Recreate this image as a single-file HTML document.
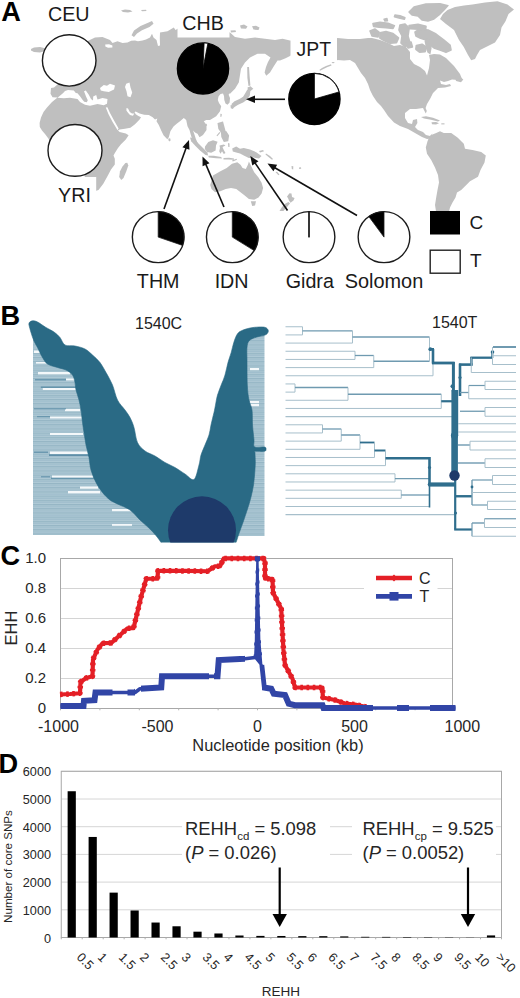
<!DOCTYPE html>
<html><head><meta charset="utf-8"><title>Figure</title>
<style>
html,body{margin:0;padding:0;background:#fff;}
body{width:520px;height:998px;overflow:hidden;font-family:"Liberation Sans", sans-serif;}
svg{display:block;font-family:"Liberation Sans", sans-serif;}
</style></head>
<body>
<svg width="520" height="998" viewBox="0 0 520 998">
<rect width="520" height="998" fill="#fff"/>
<g clip-path="url(#mapclip)">
<defs><clipPath id="mapclip"><rect x="0" y="0" width="520" height="211"/></clipPath></defs>
<polygon points="57.5,97.5 52.0,102.0 47.0,107.5 43.5,112.0 41.0,117.5 39.6,123.0 39.8,127.0 42.0,130.5 45.0,134.0 48.0,138.0 50.0,141.0 58.0,143.5 70.0,143.0 76.0,147.0 78.0,155.0 82.0,162.0 83.5,172.0 86.0,181.0 89.5,190.0 94.0,191.5 98.5,190.0 103.3,183.8 108.0,175.2 111.0,169.4 114.8,164.6 114.8,158.8 113.5,155.5 115.0,152.7 118.0,148.0 121.0,144.2 125.8,139.6 128.6,135.3 125.8,133.4 119.6,131.9 118.0,130.6 119.6,129.4 125.0,128.8 130.4,127.8 135.0,124.2 139.6,119.6 141.0,117.3 138.0,115.8 135.8,114.2 134.5,112.2 135.6,111.6 139.6,113.5 144.2,114.7 148.8,115.0 152.7,117.3 155.0,119.6 157.3,118.4 156.5,121.2 158.8,125.0 161.2,130.4 163.5,135.3 167.3,139.2 168.8,137.3 170.4,131.2 173.5,126.5 177.0,123.5 180.0,121.2 183.8,118.0 186.2,120.0 187.5,126.2 189.5,130.0 190.5,133.8 192.0,138.8 195.0,143.8 197.5,147.2 198.6,146.0 198.0,143.8 195.8,138.8 194.2,133.8 193.0,130.6 195.0,132.6 197.5,133.8 199.5,137.3 203.0,135.0 206.5,130.0 206.5,125.0 203.8,121.2 206.2,120.0 210.0,120.0 216.2,116.2 220.0,111.2 221.2,106.2 219.0,103.0 217.8,100.0 218.5,96.5 220.5,94.0 223.0,93.5 224.0,96.0 224.3,100.0 225.5,103.5 227.5,104.7 229.6,102.5 230.0,98.0 228.7,95.0 229.0,93.6 230.0,93.8 235.0,88.8 238.8,82.5 240.0,75.0 241.0,68.8 245.0,62.5 250.0,57.5 257.5,53.8 265.0,53.8 270.5,57.5 268.0,62.0 266.0,67.0 264.6,72.5 266.2,75.8 270.0,72.5 273.8,66.2 277.5,60.5 280.0,60.5 285.0,58.5 290.0,56.0 296.0,52.0 305.0,48.5 311.0,45.0 306.0,41.0 290.0,40.5 282.5,38.8 275.0,40.0 265.0,38.8 255.0,37.5 245.0,38.8 235.0,37.0 230.0,32.5 222.0,30.0 212.0,27.0 203.0,22.0 196.0,20.0 190.0,23.0 183.0,27.0 178.0,28.5 175.5,30.0 173.8,27.5 167.5,31.2 160.0,32.5 159.8,38.0 160.0,45.5 158.0,46.0 156.5,40.0 153.5,37.5 152.0,33.8 150.0,37.5 146.0,39.6 142.5,40.6 138.0,41.2 135.0,40.6 131.2,40.8 127.5,42.6 122.5,43.0 117.5,41.2 112.5,43.0 110.0,40.0 102.5,37.0 95.0,37.5 88.8,40.5 80.0,45.0 70.0,50.0 60.0,60.0 55.0,75.0 58.0,84.0 54.0,87.5 51.0,88.0 50.5,93.8 52.5,97.3 57.5,97.5" fill="#bfbfbf"/>
<polygon points="31.0,49.0 34.0,47.5 40.0,47.0 46.0,48.5 45.0,51.0 40.0,52.5 34.0,52.0 31.0,50.5" fill="#bfbfbf"/>
<polygon points="121.0,10.5 125.0,9.5 130.0,10.0 132.5,11.5 128.0,12.5 123.0,12.0" fill="#bfbfbf"/>
<polygon points="141.0,10.0 146.0,9.8 146.5,11.0 142.0,11.3" fill="#bfbfbf"/>
<polygon points="152.0,21.0 147.5,23.0 140.5,26.0 134.0,30.5 131.5,35.2 134.0,37.0 137.0,33.5 142.0,30.2 149.5,27.0 153.5,23.8" fill="#bfbfbf"/>
<polygon points="196.0,15.0 201.0,13.0 204.0,15.5 199.0,17.5" fill="#bfbfbf"/>
<polygon points="240.0,25.5 244.0,24.6 247.5,26.5 246.0,28.8 241.0,28.6" fill="#bfbfbf"/>
<polygon points="252.0,26.3 256.0,25.8 259.5,27.6 258.5,30.0 253.5,29.6" fill="#bfbfbf"/>
<polygon points="230.5,30.6 235.5,30.2 236.0,32.0 231.0,32.4" fill="#bfbfbf"/>
<polygon points="127.3,162.7 128.3,165.6 126.3,171.3 123.5,178.0 121.2,180.0 119.2,177.1 120.0,171.3 122.5,166.5 125.4,163.0" fill="#bfbfbf"/>
<polygon points="168.6,138.2 170.3,138.6 170.6,140.6 169.3,141.4 168.3,140.0" fill="#bfbfbf"/>
<polygon points="204.5,124.3 206.6,123.7 207.1,125.4 205.3,126.3" fill="#bfbfbf"/>
<polygon points="220.4,113.7 221.8,113.9 221.6,116.6 220.4,117.0" fill="#bfbfbf"/>
<polygon points="190.0,137.5 192.5,138.0 197.5,142.5 202.5,147.5 207.5,152.5 208.0,155.5 205.5,155.0 200.0,150.5 195.0,145.5 191.2,141.2" fill="#bfbfbf"/>
<polygon points="208.2,155.8 213.8,155.8 221.2,157.0 222.0,158.5 216.2,158.2 208.8,157.5" fill="#bfbfbf"/>
<polygon points="223.5,158.0 229.0,157.8 234.0,158.5 234.0,159.8 228.0,159.6 223.5,159.4" fill="#bfbfbf"/>
<polygon points="232.0,160.5 236.5,158.8 237.0,159.8 232.8,161.6" fill="#bfbfbf"/>
<polygon points="205.0,146.5 208.3,142.0 213.0,140.2 217.6,141.8 216.0,145.5 215.6,150.4 211.2,152.8 207.2,152.0 204.8,149.0" fill="#bfbfbf"/>
<polygon points="219.5,145.5 223.8,144.5 225.5,145.5 222.5,147.0 223.8,150.0 225.5,153.0 223.8,154.0 222.0,151.2 220.5,153.8 219.2,151.2 220.0,148.0" fill="#bfbfbf"/>
<polygon points="228.0,143.0 229.5,143.5 229.5,147.0 228.3,147.0" fill="#bfbfbf"/>
<polygon points="217.5,123.2 218.3,128.8 218.4,128.9 221.0,132.8 221.1,132.9 221.3,132.9 225.5,131.8 225.6,131.7 225.7,131.6 225.7,131.4 224.3,126.2 224.3,126.2 223.1,121.7 223.0,121.6 222.9,121.5 222.7,121.5 217.7,122.9 217.6,123.0 217.5,123.1" fill="#bfbfbf"/>
<polygon points="220.9,132.2 221.3,137.0 221.3,137.1 223.7,141.7 223.9,141.9 224.0,141.9 228.0,141.3 228.2,141.2 228.3,141.0 229.1,135.5 229.0,135.3 226.2,131.1 226.1,131.0 225.9,131.0 221.1,131.9 221.0,132.0 220.9,132.1" fill="#bfbfbf"/>
<polygon points="216.5,135.5 219.5,132.0 220.3,132.8 217.3,136.3" fill="#bfbfbf"/>
<polygon points="232.2,148.6 236.2,146.4 240.0,148.8 243.8,148.0 250.0,149.6 256.2,152.2 261.5,156.0 259.0,158.6 253.8,157.6 248.8,157.9 243.8,155.6 240.0,153.6 236.2,152.6 232.8,151.6" fill="#bfbfbf"/>
<polygon points="259.0,151.0 263.0,150.0 264.0,151.3 260.0,152.6" fill="#bfbfbf"/>
<polygon points="266.0,153.5 270.0,156.0 273.0,159.0 272.0,159.8 268.5,157.0 265.5,154.5" fill="#bfbfbf"/>
<polygon points="291.5,166.0 293.3,166.3 293.2,169.5 291.8,169.0" fill="#bfbfbf"/>
<polygon points="275.5,172.0 277.0,171.7 279.5,174.5 278.4,175.3" fill="#bfbfbf"/>
<polygon points="299.0,167.5 301.0,167.3 301.2,168.8 299.2,169.0" fill="#bfbfbf"/>
<polygon points="210.9,182.8 213.0,175.4 220.4,171.2 226.7,168.0 232.0,163.8 237.3,162.3 240.5,164.8 242.6,168.0 245.8,169.0 247.9,164.8 248.9,161.4 251.1,165.9 254.2,172.2 258.5,177.5 261.6,182.8 263.1,188.1 261.6,193.4 258.5,197.6 254.2,199.7 248.9,199.1 244.7,195.5 240.5,192.3 236.3,189.1 231.0,188.1 225.7,189.1 220.4,191.2 215.1,192.3 211.5,189.1 210.2,184.9" fill="#bfbfbf"/>
<polygon points="250.8,201.2 256.0,201.2 255.0,205.5 252.2,206.0" fill="#bfbfbf"/>
<polygon points="287.0,196.5 289.5,193.2 291.5,193.6 292.0,197.0 294.6,198.0 293.5,200.5 290.5,202.8 289.0,200.5 288.2,198.5" fill="#bfbfbf"/>
<polygon points="288.5,202.0 290.0,203.5 287.0,207.0 283.0,211.5 279.5,211.0 282.0,207.0 285.5,203.5" fill="#bfbfbf"/>
<polygon points="231.4,104.3 233.8,107.1 233.9,107.2 234.0,107.2 234.1,107.2 238.1,104.8 243.1,102.4 243.1,102.4 247.1,99.8 247.2,99.7 249.8,95.5 249.8,95.4 250.4,90.8 250.4,90.7 250.3,90.7 250.3,90.6 247.5,89.6 247.4,89.6 247.3,89.6 247.2,89.7 245.4,93.1 243.1,96.7 239.5,99.0 234.5,101.2 234.5,101.3 231.5,104.1 231.4,104.1 231.4,104.2" fill="#bfbfbf"/>
<polygon points="230.5,105.2 232.5,105.0 234.5,106.8 232.8,109.0 230.8,108.2" fill="#bfbfbf"/>
<polygon points="247.5,87.5 250.5,86.2 253.3,88.8 250.5,91.0 248.0,90.5" fill="#bfbfbf"/>
<polygon points="247.2,67.0 249.0,67.0 249.6,76.0 250.4,85.5 248.5,86.0 247.4,78.0" fill="#bfbfbf"/>
<polygon points="319.5,69.8 322.0,68.0 326.0,66.0 331.0,64.3 331.5,65.5 327.0,67.3 323.0,69.2 320.0,70.8" fill="#bfbfbf"/>
<polygon points="326.0,52.0 326.0,44.0 331.0,40.0 337.6,38.0 348.0,39.0 360.0,39.0 368.0,38.0 372.0,38.0 380.0,40.0 388.0,43.0 394.0,46.0 400.0,45.0 406.0,47.0 410.0,52.0 410.0,59.0 414.0,64.0 420.0,67.0 425.0,71.0 427.0,75.5 429.0,68.0 430.0,60.0 429.0,55.0 434.0,54.0 440.0,54.5 446.0,58.0 454.0,66.0 460.0,74.0 462.0,79.0 458.0,80.0 452.0,79.5 448.0,81.0 444.0,82.0 440.0,80.5 441.0,84.0 446.0,85.0 450.0,84.0 451.0,86.0 445.0,87.5 438.0,88.0 433.0,93.0 430.0,99.0 427.0,104.0 425.6,108.0 426.8,111.0 425.8,113.6 424.2,110.5 423.0,108.0 416.0,109.0 410.0,109.0 405.0,113.0 405.0,118.0 408.0,123.0 412.0,124.0 413.0,120.0 417.0,119.0 417.4,123.0 415.0,127.0 418.0,130.0 423.0,132.0 426.0,135.0 430.0,136.0 432.4,133.6 430.0,138.5 427.0,139.0 422.0,137.0 415.0,133.0 408.0,129.0 400.0,126.0 394.0,122.4 388.0,116.0 384.0,110.0 381.0,106.0 377.0,102.0 373.0,96.0 370.0,90.0 368.0,84.0 365.0,78.0 361.0,73.0 358.0,68.0 355.0,63.0 350.0,60.0 344.0,60.4 337.6,60.0 333.0,63.5 331.5,62.0 335.0,58.0 332.0,55.0" fill="#bfbfbf"/>
<polygon points="427.5,141.2 429.0,137.5 431.2,135.0 436.2,133.0 440.0,131.2 443.8,133.0 451.2,133.0 457.5,137.5 463.8,143.8 465.0,148.8 472.5,150.0 481.2,152.0 485.8,155.5 484.5,162.5 480.5,170.0 478.0,176.8 470.0,181.2 465.0,186.2 461.2,190.0 457.0,192.5 455.5,197.5 452.5,202.5 450.0,207.5 448.8,212.5 447.0,220.0 440.0,220.0 436.2,212.5 435.0,205.0 436.2,197.5 437.5,190.0 439.0,182.5 438.0,175.0 435.0,167.5 431.2,160.0 427.0,153.8 425.8,147.5" fill="#bfbfbf"/>
<polygon points="421.0,117.0 426.0,116.2 433.0,117.8 440.0,120.6 438.0,121.4 431.0,119.8 424.0,118.6" fill="#bfbfbf"/>
<polygon points="431.5,122.3 436.0,122.0 439.0,123.3 436.0,124.6 432.0,124.2" fill="#bfbfbf"/>
<polygon points="441.3,123.3 444.5,123.3 444.5,124.4 441.3,124.4" fill="#bfbfbf"/>
<polygon points="440.0,19.0 443.0,14.0 447.5,10.0 455.0,7.0 464.0,5.6 472.5,4.6 485.0,2.5 497.5,1.2 507.5,4.6 514.0,9.6 508.5,14.0 505.5,21.2 501.5,27.5 500.0,35.0 495.0,42.5 487.5,46.2 480.0,50.0 477.0,55.0 475.0,59.0 471.2,60.3 468.0,55.0 463.8,47.0 459.0,40.0 454.0,30.0 446.0,24.0" fill="#bfbfbf"/>
<polygon points="408.5,12.5 411.5,15.5 411.9,15.7 417.7,16.7 421.5,20.5 421.9,20.7 427.9,21.7 428.2,21.7 434.2,19.7 434.4,19.5 439.4,15.5 439.5,15.5 444.5,10.5 444.5,10.5 448.5,6.1 448.7,5.8 448.7,5.4 448.5,5.1 448.2,4.9 440.2,2.9 440.0,2.9 426.0,3.3 425.8,3.3 413.8,6.3 413.5,6.5 408.5,11.5 408.3,11.8 408.3,12.2" fill="#bfbfbf"/>
<polygon points="414.2,32.2 415.2,36.2 415.4,36.5 415.6,36.7 419.6,38.7 419.7,38.8 425.5,40.7 429.4,45.5 429.5,45.6 433.5,48.6 433.7,48.8 439.7,50.8 445.7,53.1 446.0,53.2 446.3,53.1 451.3,50.7 451.6,50.5 451.8,50.2 451.8,49.8 450.8,44.8 450.5,44.4 444.5,39.4 444.5,39.4 436.5,33.4 436.4,33.3 428.4,29.3 428.1,29.2 420.1,28.2 419.6,28.3 414.6,31.3 414.3,31.7" fill="#bfbfbf"/>
<polygon points="369.3,31.3 371.3,36.3 371.5,36.6 371.9,36.8 377.9,37.8 378.3,37.8 378.6,37.5 378.8,37.2 379.8,32.2 379.7,31.7 379.5,31.4 375.5,28.4 375.1,28.2 374.7,28.3 369.7,30.3 369.4,30.5 369.2,30.9" fill="#bfbfbf"/>
<polygon points="379.1,33.0 379.1,38.0 379.2,38.4 379.5,38.8 383.5,41.2 383.6,41.2 389.6,44.0 390.1,44.1 396.5,43.5 396.9,43.3 397.2,43.0 399.2,38.4 399.3,37.8 399.0,37.3 393.6,32.9 393.2,32.7 386.2,30.7 385.8,30.7 379.8,32.1 379.4,32.3 379.2,32.6" fill="#bfbfbf"/>
<polygon points="372.2,23.8 372.8,26.6 373.1,27.0 373.5,27.2 378.9,28.0 379.0,28.0 385.9,28.4 392.9,29.2 393.4,29.1 393.7,28.8 395.1,26.0 395.2,25.5 395.0,25.1 394.7,24.9 388.3,22.5 388.1,22.4 380.1,21.6 379.9,21.6 372.9,22.8 372.5,23.0 372.2,23.3" fill="#bfbfbf"/>
<polygon points="383.4,19.2 384.2,21.4 384.4,21.6 384.6,21.8 384.9,21.8 387.7,21.4 388.0,21.3 388.2,21.0 388.2,20.7 387.6,18.3 387.4,18.0 387.2,17.8 386.9,17.8 383.9,18.4 383.6,18.6 383.4,18.9" fill="#bfbfbf"/>
<polygon points="394.3,14.8 393.7,16.6 393.7,17.0 393.9,17.3 394.2,17.5 398.8,18.7 398.8,18.7 404.2,19.9 404.6,19.9 404.9,19.7 405.1,19.4 405.7,17.8 405.7,17.5 405.5,17.2 405.3,17.0 400.3,15.0 400.1,14.9 395.1,14.3 394.8,14.3 394.5,14.5" fill="#bfbfbf"/>
<polygon points="399.2,24.8 398.2,29.8 398.3,30.4 401.2,36.1 400.2,42.9 400.2,43.3 400.4,43.6 404.6,47.8 405.0,48.0 405.4,48.0 405.7,47.8 410.5,43.6 410.8,43.2 410.8,42.8 408.8,35.9 410.0,28.1 410.0,27.7 409.8,27.4 405.6,23.4 405.2,23.2 404.8,23.2 399.8,24.2 399.4,24.4" fill="#bfbfbf"/>
<polygon points="408.2,25.8 409.2,29.0 409.5,29.4 410.0,29.6 418.0,30.0 425.6,30.4 425.9,30.3 426.2,30.1 426.4,29.7 426.8,26.5 426.7,26.1 426.5,25.8 426.2,25.6 418.2,23.6 417.9,23.6 408.9,24.8 408.5,25.0 408.2,25.4" fill="#bfbfbf"/>
<polygon points="415.5,45.5 415.1,49.1 415.2,49.6 415.4,49.9 419.0,52.7 419.7,52.9 425.1,52.5 425.6,52.3 425.9,51.9 427.3,47.5 427.3,47.1 427.2,46.7 426.9,46.4 422.5,43.6 421.8,43.5 416.2,44.7 415.7,45.0" fill="#bfbfbf"/>
<polygon points="405.3,43.3 407.3,48.3 407.5,48.6 407.8,48.8 408.2,48.8 412.6,47.8 413.0,47.6 413.2,47.2 413.2,46.8 411.8,41.8 411.6,41.4 411.2,41.2 410.8,41.2 405.8,42.2 405.4,42.4 405.2,42.8" fill="#bfbfbf"/>
<polygon points="424.5,41.0 428.0,37.5 431.0,40.0 431.6,48.0 430.4,54.5 427.4,52.5 425.6,46.5" fill="#bfbfbf"/>
<polygon points="455.0,77.0 459.0,76.0 463.3,79.5 461.0,82.2 456.0,81.0" fill="#bfbfbf"/>
<polygon points="57.5,97.8 63.2,93.0 65.0,91.0 68.0,90.0 73.8,90.5 75.8,93.0 77.5,93.2 80.0,96.2 82.5,99.8 84.2,101.8 86.8,102.2 87.8,100.2 86.0,96.5 84.8,93.2 84.0,91.2 85.8,90.5 88.8,94.8 91.0,99.0 93.0,100.5 93.2,96.5 96.2,95.0 97.5,99.5 102.5,98.0 107.5,99.0 107.0,103.8 103.8,105.2 97.5,104.0 90.0,105.8 85.0,104.8 80.0,102.0 77.5,99.0 70.0,97.8 63.8,98.2" fill="#fff"/>
<polygon points="100.0,88.0 103.8,85.0 107.0,85.8 110.0,83.8 115.0,85.5 114.0,89.5 108.8,92.0 103.8,91.2 100.8,90.5" fill="#fff"/>
<polygon points="126.2,83.8 129.5,82.5 130.5,87.5 132.2,92.5 130.5,97.2 127.5,96.2 126.5,91.2 125.0,87.0" fill="#fff"/>
<polygon points="105.8,107.6 107.4,107.2 110.0,113.0 114.2,120.8 118.6,128.6 117.6,130.2 112.6,122.0 108.4,114.0" fill="#fff"/>
<polygon points="126.5,108.0 128.0,108.6 129.8,112.0 132.0,113.5 134.2,113.6 133.0,115.8 130.0,115.0 128.0,112.7 126.4,110.4" fill="#fff"/>
<polygon points="105.2,44.6 109.0,44.3 112.4,45.4 112.4,47.6 108.0,47.8 105.4,46.6" fill="#fff"/>
</g>
<rect x="177.5" y="8" width="52" height="29.5" fill="#fff"/>
<rect x="290.5" y="37" width="46.5" height="25" fill="#fff"/>
<rect x="48" y="177" width="48.2" height="31" fill="#fff"/>
<line x1="285" y1="99.3" x2="254.00" y2="99.30" stroke="#111" stroke-width="1.6"/><polygon points="246.00,99.30 255.00,95.55 255.00,103.05" fill="#111"/>
<line x1="164" y1="209" x2="186.27" y2="147.52" stroke="#111" stroke-width="1.6"/><polygon points="189.00,140.00 189.46,149.74 182.41,147.18" fill="#111"/>
<line x1="224" y1="207" x2="205.63" y2="163.86" stroke="#111" stroke-width="1.6"/><polygon points="202.50,156.50 209.48,163.31 202.58,166.25" fill="#111"/>
<line x1="287.5" y1="210.5" x2="254.81" y2="162.61" stroke="#111" stroke-width="1.6"/><polygon points="250.30,156.00 258.47,161.32 252.28,165.55" fill="#111"/>
<line x1="357" y1="215.5" x2="274.42" y2="167.52" stroke="#111" stroke-width="1.6"/><polygon points="267.50,163.50 277.17,164.78 273.40,171.26" fill="#111"/>
<ellipse cx="69.2" cy="60.4" rx="26.8" ry="25.7" fill="#fff" stroke="#1c1c1c" stroke-width="1.4"/>
<ellipse cx="75" cy="150.4" rx="27.0" ry="25.85" fill="#fff" stroke="#1c1c1c" stroke-width="1.4"/>
<ellipse cx="203" cy="68.5" rx="25.6" ry="25.6" fill="#000" stroke="#000" stroke-width="1.4"/>
<path d="M203,68.5 L204.12,42.92 A25.6,25.6 0 0 1 207.88,43.37 Z" fill="#fff" stroke="#000" stroke-width="0.8" stroke-linejoin="round"/>
<ellipse cx="314.4" cy="99.0" rx="25.6" ry="25.6" fill="#000" stroke="#000" stroke-width="1.4"/>
<path d="M314.4,99.0 L314.40,73.40 A25.6,25.6 0 0 1 339.01,91.94 Z" fill="#fff" stroke="#000" stroke-width="0.8" stroke-linejoin="round"/>
<ellipse cx="158.2" cy="237.1" rx="25.85" ry="25.5" fill="#fff" stroke="#1c1c1c" stroke-width="1.4"/>
<path d="M158.2,237.1 L158.20,211.60 A25.85,25.5 0 0 1 182.64,245.40 Z" fill="#000" stroke="#1c1c1c" stroke-width="0.8" stroke-linejoin="round"/>
<ellipse cx="232.3" cy="237.1" rx="25.85" ry="25.5" fill="#fff" stroke="#1c1c1c" stroke-width="1.4"/>
<path d="M232.3,237.1 L232.30,211.60 A25.85,25.5 0 0 1 254.22,250.61 Z" fill="#000" stroke="#1c1c1c" stroke-width="0.8" stroke-linejoin="round"/>
<ellipse cx="309" cy="237.1" rx="25.85" ry="25.5" fill="#fff" stroke="#1c1c1c" stroke-width="1.4"/>
<path d="M309,237.1 L309.00,211.60 A25.85,25.5 0 0 1 309.00,211.60 Z" fill="#000" stroke="#1c1c1c" stroke-width="0.8" stroke-linejoin="round"/>
<line x1="309" y1="237.5" x2="309" y2="211.7" stroke="#111" stroke-width="1.2"/>
<ellipse cx="384" cy="237.1" rx="25.85" ry="25.5" fill="#fff" stroke="#1c1c1c" stroke-width="1.4"/>
<path d="M384,237.1 L368.81,216.47 A25.85,25.5 0 0 1 384.00,211.60 Z" fill="#000" stroke="#1c1c1c" stroke-width="0.8" stroke-linejoin="round"/>
<text x="1.2" y="21" font-size="27.2" text-anchor="start" font-weight="bold" fill="#000" >A</text>
<text x="68.8" y="21" font-size="19.7" text-anchor="middle" font-weight="normal" fill="#1a1a1a" >CEU</text>
<text x="203" y="30.2" font-size="19.7" text-anchor="middle" font-weight="normal" fill="#1a1a1a" >CHB</text>
<text x="313.8" y="55.8" font-size="19.4" text-anchor="middle" font-weight="normal" fill="#1a1a1a" >JPT</text>
<text x="74.5" y="202" font-size="19.7" text-anchor="middle" font-weight="normal" fill="#1a1a1a" >YRI</text>
<text x="158.2" y="288.2" font-size="19.7" text-anchor="middle" font-weight="normal" fill="#1a1a1a" >THM</text>
<text x="231.6" y="288.2" font-size="19.7" text-anchor="middle" font-weight="normal" fill="#1a1a1a" >IDN</text>
<text x="309.8" y="288.2" font-size="19.7" text-anchor="middle" font-weight="normal" fill="#1a1a1a" >Gidra</text>
<text x="384" y="288.2" font-size="19.9" text-anchor="middle" font-weight="normal" fill="#1a1a1a" >Solomon</text>
<rect x="430" y="211" width="30" height="23.5" fill="#000"/>
<rect x="430.2" y="250.2" width="30" height="23" fill="#fff" stroke="#222" stroke-width="1.4"/>
<text x="469.5" y="229" font-size="19" text-anchor="start" font-weight="normal" fill="#1a1a1a" >C</text>
<text x="470" y="267" font-size="19" text-anchor="start" font-weight="normal" fill="#1a1a1a" >T</text>
<text x="0.6" y="325.4" font-size="27.2" text-anchor="start" font-weight="bold" fill="#000" >B</text>
<defs><pattern id="stripes" x="0" y="0" width="8" height="4.2" patternUnits="userSpaceOnUse"><rect width="8" height="4.2" fill="#b0cad6"/><rect y="0" width="8" height="1.2" fill="#94b5c4"/><rect y="2.1" width="8" height="1.1" fill="#9dbccb"/></pattern><clipPath id="lclip"><polygon points="32.0,321.5 32.0,323.0 34.0,330.5 37.0,339.0 40.5,345.5 45.5,355.5 50.5,362.0 60.5,365.5 69.0,368.0 75.5,373.0 78.0,380.5 79.0,388.0 82.0,398.0 84.0,408.0 85.5,420.5 87.0,430.5 89.0,443.0 92.0,455.5 94.0,468.0 99.0,480.5 105.5,490.5 113.0,498.0 120.5,502.0 133.0,508.0 143.0,518.0 153.0,527.0 160.5,535.5 164.0,540.5 167.0,547.0 203.0,550.0 236.0,547.0 170,535 33,535 33,336"/></clipPath><clipPath id="bclip"><rect x="0" y="300" width="280" height="242.6"/></clipPath></defs>
<g clip-path="url(#lclip)">
<rect x="33" y="330" width="140" height="205" fill="url(#stripes)"/>
<rect x="34" y="350.5" width="6" height="2.5" fill="#f4f8fa"/>
<rect x="38" y="372" width="32" height="2.4" fill="#f4f8fa"/>
<rect x="66" y="378.4" width="9" height="2.0" fill="#f4f8fa"/>
<rect x="42.8" y="387.9" width="34.2" height="2.1" fill="#f4f8fa"/>
<rect x="36" y="362" width="24" height="1.6" fill="#f4f8fa"/>
<rect x="65" y="409" width="15" height="2.2" fill="#f4f8fa"/>
<rect x="50" y="416.5" width="33" height="2.0" fill="#f4f8fa"/>
<rect x="50" y="433" width="33" height="2.0" fill="#f4f8fa"/>
<rect x="50" y="451.5" width="38" height="3.0" fill="#f4f8fa"/>
<rect x="52" y="475.5" width="41" height="2.4" fill="#f4f8fa"/>
<rect x="80" y="486.5" width="18" height="2.2" fill="#f4f8fa"/>
<rect x="68" y="491" width="32" height="2.4" fill="#f4f8fa"/>
<rect x="112" y="509" width="20" height="2.2" fill="#f4f8fa"/>
<rect x="112" y="524" width="20" height="1.8" fill="#f4f8fa"/>
<rect x="49" y="454.2" width="43" height="1.8" fill="#5f8fa8"/>
<rect x="34" y="451.6" width="14" height="1.2" fill="#5f8fa8"/>
<rect x="34" y="408.3" width="32" height="1.0" fill="#5f8fa8"/>
<rect x="37" y="416.2" width="13" height="1.0" fill="#5f8fa8"/>
<rect x="51" y="477.7" width="44" height="1.2" fill="#5f8fa8"/>
<rect x="41" y="476.3" width="9" height="1.0" fill="#5f8fa8"/>
<rect x="35" y="379.2" width="31" height="1.2" fill="#5f8fa8"/>
<rect x="40.8" y="386.5" width="36.2" height="1.4" fill="#5f8fa8"/>
</g>
<polygon points="246,334 264.5,334 264.5,536 234,536 236,520 246,470" fill="url(#stripes)"/>
<rect x="250" y="368" width="9" height="2.2" fill="#f4f8fa"/>
<rect x="250" y="401" width="9" height="2.2" fill="#f4f8fa"/>
<rect x="250" y="404" width="9" height="2.2" fill="#f4f8fa"/>
<g clip-path="url(#bclip)">
<path d="M29.0,323.5 C28.8,324.0 28.7,323.5 29.0,325.0 C29.3,326.5 30.2,329.8 31.0,332.5 C31.8,335.2 32.9,338.5 34.0,341.0 C35.1,343.5 36.1,344.8 37.5,347.5 C38.9,350.2 40.8,354.8 42.5,357.5 C44.2,360.2 45.0,362.3 47.5,364.0 C50.0,365.7 54.4,366.5 57.5,367.5 C60.6,368.5 63.5,368.8 66.0,370.0 C68.5,371.2 71.0,372.9 72.5,375.0 C74.0,377.1 74.4,380.0 75.0,382.5 C75.6,385.0 75.3,387.1 76.0,390.0 C76.7,392.9 78.2,396.7 79.0,400.0 C79.8,403.3 80.4,406.2 81.0,410.0 C81.6,413.8 82.0,418.8 82.5,422.5 C83.0,426.2 83.4,428.8 84.0,432.5 C84.6,436.2 85.2,440.8 86.0,445.0 C86.8,449.2 88.2,453.3 89.0,457.5 C89.8,461.7 89.8,465.8 91.0,470.0 C92.2,474.2 94.1,478.8 96.0,482.5 C97.9,486.2 100.2,489.6 102.5,492.5 C104.8,495.4 107.5,498.1 110.0,500.0 C112.5,501.9 114.2,502.3 117.5,504.0 C120.8,505.7 126.2,507.3 130.0,510.0 C133.8,512.7 136.7,516.8 140.0,520.0 C143.3,523.2 147.1,526.1 150.0,529.0 C152.9,531.9 155.7,535.2 157.5,537.5 C159.3,539.8 159.9,540.6 161.0,542.5 C162.1,544.4 157.5,547.4 164.0,549.0 C170.5,550.6 188.5,552.0 200.0,552.0 C211.5,552.0 227.0,550.6 233.0,549.0 C239.0,547.4 234.9,545.3 236.0,542.5 C237.1,539.7 238.2,535.6 239.5,532.0 C240.8,528.4 242.2,524.8 243.5,521.0 C244.8,517.2 246.2,513.0 247.5,509.0 C248.8,505.0 250.0,501.0 251.0,497.0 C252.0,493.0 252.9,489.2 253.5,485.0 C254.1,480.8 254.5,475.8 254.8,472.0 C255.1,468.2 255.3,465.2 255.3,462.0 C255.3,458.8 255.0,454.8 255.0,453.0 C255.0,451.2 253.6,451.6 255.2,451.3 C256.8,451.0 262.7,451.7 264.5,451.3 C266.3,450.9 266.0,449.9 266.0,449.2 C266.0,448.5 266.4,447.4 264.5,447.0 C262.6,446.6 256.4,448.2 254.6,447.0 C252.8,445.8 254.3,443.7 254.0,440.0 C253.7,436.3 252.8,430.0 252.5,425.0 C252.2,420.0 252.6,414.2 252.0,410.0 C251.4,405.8 249.8,404.2 249.0,400.0 C248.2,395.8 247.6,391.7 247.3,385.0 C247.0,378.3 247.1,366.2 247.0,360.0 C246.9,353.8 246.7,350.6 247.0,347.5 C247.3,344.4 247.6,342.8 248.8,341.2 C249.9,339.7 251.9,338.8 253.8,338.0 C255.6,337.2 257.9,336.8 260.0,336.2 C262.1,335.7 264.9,335.4 266.2,334.5 C267.6,333.6 268.4,332.0 268.3,330.8 C268.2,329.6 267.1,328.1 265.5,327.5 C263.9,326.9 261.3,326.9 258.8,327.0 C256.2,327.1 252.7,327.4 250.0,328.0 C247.3,328.6 244.6,329.3 242.5,330.3 C240.4,331.3 239.0,331.7 237.5,333.8 C236.0,335.8 234.8,339.4 233.8,342.5 C232.7,345.6 232.2,349.2 231.2,352.5 C230.3,355.8 229.0,358.8 228.0,362.5 C227.0,366.2 226.1,371.2 225.0,375.0 C223.9,378.8 222.5,381.7 221.2,385.0 C220.0,388.3 218.5,391.7 217.5,395.0 C216.5,398.3 216.1,402.1 215.5,405.0 C214.9,407.9 214.8,409.2 214.0,412.5 C213.2,415.8 211.8,421.2 211.0,425.0 C210.2,428.8 210.0,431.7 209.0,435.0 C208.0,438.3 206.3,441.7 205.0,445.0 C203.7,448.3 202.0,451.7 201.0,455.0 C200.0,458.3 200.2,460.9 199.0,465.0 C197.8,469.1 196.3,478.0 194.0,479.5 C191.7,481.0 188.2,476.0 185.0,474.0 C181.8,472.0 178.3,469.4 175.0,467.5 C171.7,465.6 168.3,464.4 165.0,462.5 C161.7,460.6 158.3,457.9 155.0,456.0 C151.7,454.1 147.9,453.2 145.0,451.0 C142.1,448.8 139.3,446.4 137.5,442.5 C135.7,438.6 135.2,431.7 134.0,427.5 C132.8,423.3 131.5,420.4 130.0,417.5 C128.5,414.6 127.1,412.9 125.0,410.0 C122.9,407.1 119.6,404.2 117.5,400.0 C115.4,395.8 114.4,389.6 112.5,385.0 C110.6,380.4 108.1,376.2 106.0,372.5 C103.9,368.8 102.2,365.4 100.0,362.5 C97.8,359.6 95.0,357.2 92.5,355.0 C90.0,352.8 87.9,350.5 85.0,349.0 C82.1,347.5 78.3,346.7 75.0,346.0 C71.7,345.3 67.5,346.4 65.0,345.0 C62.5,343.6 61.8,339.7 60.0,337.5 C58.2,335.3 56.3,333.7 54.0,332.0 C51.7,330.3 48.8,329.2 46.0,327.5 C43.2,325.8 39.7,323.1 37.5,322.0 C35.3,320.9 34.2,320.8 33.0,320.8 C31.8,320.8 30.7,321.4 30.0,321.8 C29.3,322.2 29.2,323.0 29.0,323.5 Z" fill="#2a6a85" stroke="#2a6a85" stroke-width="0.6" stroke-linejoin="round"/>
<circle cx="202" cy="530.3" r="34" fill="#1e3a6a"/>
</g>
<text x="135" y="328.6" font-size="16" fill="#222">1540C</text>
<line x1="285.5" y1="326.75" x2="302.5" y2="326.75" stroke="#a7bfcb" stroke-width="1.0"/>
<line x1="285.5" y1="334.92" x2="302.5" y2="334.92" stroke="#a7bfcb" stroke-width="1.0"/>
<line x1="302.5" y1="326.75" x2="302.5" y2="334.92" stroke="#a7bfcb" stroke-width="1.0"/>
<line x1="302.5" y1="330.8" x2="352.5" y2="330.8" stroke="#6f9ab0" stroke-width="1.3"/>
<line x1="285.5" y1="343.09" x2="352.5" y2="343.09" stroke="#a7bfcb" stroke-width="1.0"/>
<line x1="352.5" y1="330.8" x2="352.5" y2="343.09" stroke="#a7bfcb" stroke-width="1.0"/>
<line x1="352.5" y1="337" x2="429.5" y2="337" stroke="#6f9ab0" stroke-width="1.4"/>
<line x1="285.5" y1="351.26" x2="355" y2="351.26" stroke="#a7bfcb" stroke-width="1.0"/>
<line x1="285.5" y1="359.43" x2="355" y2="359.43" stroke="#a7bfcb" stroke-width="1.0"/>
<line x1="355" y1="351.26" x2="355" y2="359.43" stroke="#a7bfcb" stroke-width="1.0"/>
<line x1="355" y1="355.5" x2="373.75" y2="355.5" stroke="#6f9ab0" stroke-width="1.3"/>
<line x1="285.5" y1="367.6" x2="373.75" y2="367.6" stroke="#a7bfcb" stroke-width="1.0"/>
<line x1="373.75" y1="355.5" x2="373.75" y2="367.6" stroke="#a7bfcb" stroke-width="1.0"/>
<line x1="373.75" y1="361.25" x2="429.5" y2="361.25" stroke="#6f9ab0" stroke-width="1.4"/>
<line x1="429.5" y1="337" x2="429.5" y2="361.25" stroke="#a7bfcb" stroke-width="1.0"/>
<line x1="285.5" y1="375.77" x2="433" y2="375.77" stroke="#a7bfcb" stroke-width="1.1"/>
<line x1="433" y1="363" x2="433" y2="375.77" stroke="#a7bfcb" stroke-width="1.0"/>
<circle cx="430.3" cy="349.2" r="1.9" fill="#2f6e8d"/>
<line x1="429.5" y1="349.2" x2="434" y2="349.2" stroke="#2f6e8d" stroke-width="2.4"/>
<line x1="433" y1="349" x2="433" y2="363.6" stroke="#2f6e8d" stroke-width="2.6"/>
<line x1="432" y1="363" x2="454.6" y2="363" stroke="#2f6e8d" stroke-width="2.8"/>
<line x1="453.4" y1="362" x2="453.4" y2="392" stroke="#2f6e8d" stroke-width="3.0"/>
<line x1="285.5" y1="383.94" x2="295" y2="383.94" stroke="#a7bfcb" stroke-width="1.0"/>
<line x1="285.5" y1="392.11" x2="295" y2="392.11" stroke="#a7bfcb" stroke-width="1.0"/>
<line x1="295" y1="383.94" x2="295" y2="392.11" stroke="#a7bfcb" stroke-width="1.0"/>
<line x1="295" y1="387.5" x2="348" y2="387.5" stroke="#6f9ab0" stroke-width="1.3"/>
<line x1="285.5" y1="400.28" x2="348" y2="400.28" stroke="#a7bfcb" stroke-width="1.0"/>
<line x1="348" y1="387.5" x2="348" y2="400.28" stroke="#a7bfcb" stroke-width="1.0"/>
<line x1="348" y1="394.25" x2="441.25" y2="394.25" stroke="#6f9ab0" stroke-width="1.4"/>
<line x1="285.5" y1="408.45" x2="441.25" y2="408.45" stroke="#a7bfcb" stroke-width="1.0"/>
<line x1="441.25" y1="394.25" x2="441.25" y2="408.45" stroke="#a7bfcb" stroke-width="1.0"/>
<line x1="441.25" y1="401.25" x2="453" y2="401.25" stroke="#2f6e8d" stroke-width="2.2"/>
<line x1="285.5" y1="416.62" x2="453" y2="416.62" stroke="#a7bfcb" stroke-width="1.1"/>
<line x1="285.5" y1="424.78999999999996" x2="322.5" y2="424.78999999999996" stroke="#a7bfcb" stroke-width="1.0"/>
<line x1="285.5" y1="432.96" x2="322.5" y2="432.96" stroke="#a7bfcb" stroke-width="1.0"/>
<line x1="322.5" y1="424.78999999999996" x2="322.5" y2="432.96" stroke="#a7bfcb" stroke-width="1.0"/>
<line x1="322.5" y1="429" x2="341.25" y2="429" stroke="#6f9ab0" stroke-width="1.3"/>
<line x1="285.5" y1="441.13" x2="341.25" y2="441.13" stroke="#a7bfcb" stroke-width="1.0"/>
<line x1="341.25" y1="429" x2="341.25" y2="441.13" stroke="#a7bfcb" stroke-width="1.0"/>
<line x1="341.25" y1="435" x2="360" y2="435" stroke="#6f9ab0" stroke-width="1.5"/>
<line x1="285.5" y1="449.3" x2="360" y2="449.3" stroke="#a7bfcb" stroke-width="1.0"/>
<line x1="360" y1="435" x2="360" y2="449.3" stroke="#a7bfcb" stroke-width="1.0"/>
<line x1="360" y1="442.5" x2="374.5" y2="442.5" stroke="#2f6e8d" stroke-width="1.8"/>
<line x1="285.5" y1="457.47" x2="374.5" y2="457.47" stroke="#a7bfcb" stroke-width="1.0"/>
<line x1="374.5" y1="442.5" x2="374.5" y2="457.47" stroke="#a7bfcb" stroke-width="1.0"/>
<line x1="374.5" y1="450.5" x2="385.5" y2="450.5" stroke="#2f6e8d" stroke-width="2.0"/>
<line x1="285.5" y1="465.64" x2="385.5" y2="465.64" stroke="#a7bfcb" stroke-width="1.0"/>
<line x1="385.5" y1="450.5" x2="385.5" y2="465.64" stroke="#a7bfcb" stroke-width="1.0"/>
<line x1="385.5" y1="458.2" x2="429.5" y2="458.2" stroke="#2f6e8d" stroke-width="2.6"/>
<line x1="285.5" y1="473.81" x2="395" y2="473.81" stroke="#a7bfcb" stroke-width="1.0"/>
<line x1="285.5" y1="481.98" x2="395" y2="481.98" stroke="#a7bfcb" stroke-width="1.0"/>
<line x1="395" y1="473.81" x2="395" y2="481.98" stroke="#a7bfcb" stroke-width="1.0"/>
<line x1="395" y1="478.6" x2="429.5" y2="478.6" stroke="#6f9ab0" stroke-width="1.3"/>
<line x1="285.5" y1="490.15" x2="401.25" y2="490.15" stroke="#a7bfcb" stroke-width="1.0"/>
<line x1="285.5" y1="498.32" x2="401.25" y2="498.32" stroke="#a7bfcb" stroke-width="1.0"/>
<line x1="401.25" y1="490.15" x2="401.25" y2="498.32" stroke="#a7bfcb" stroke-width="1.0"/>
<line x1="401.25" y1="495" x2="429.5" y2="495" stroke="#6f9ab0" stroke-width="1.3"/>
<line x1="285.5" y1="506.49" x2="429.5" y2="506.49" stroke="#a7bfcb" stroke-width="1.1"/>
<line x1="285.5" y1="514.66" x2="454.5" y2="514.66" stroke="#a7bfcb" stroke-width="1.1"/>
<line x1="429.5" y1="457" x2="429.5" y2="484.5" stroke="#2f6e8d" stroke-width="2.6"/>
<line x1="429.5" y1="484.5" x2="429.5" y2="507.5" stroke="#2f6e8d" stroke-width="1.6"/>
<circle cx="429.5" cy="467.5" r="1.6" fill="#2f6e8d"/>
<circle cx="429.5" cy="484.5" r="1.8" fill="#2f6e8d"/>
<line x1="428.6" y1="484.5" x2="455" y2="484.5" stroke="#2f6e8d" stroke-width="4.2"/>
<line x1="454.8" y1="390" x2="454.8" y2="436" stroke="#2f6e8d" stroke-width="6.8"/>
<line x1="454.6" y1="435" x2="454.6" y2="476" stroke="#2f6e8d" stroke-width="6.6"/>
<line x1="455.2" y1="476" x2="455.2" y2="529.5" stroke="#2f6e8d" stroke-width="2.2"/>
<line x1="460" y1="363.6" x2="460" y2="396" stroke="#2f6e8d" stroke-width="2.6"/>
<circle cx="452.5" cy="386.3" r="2.0" fill="#2f6e8d"/>
<circle cx="460" cy="377.5" r="1.6" fill="#2f6e8d"/>
<circle cx="454.5" cy="435.5" r="3.6" fill="#2f6e8d"/>
<circle cx="455.5" cy="513" r="1.6" fill="#2f6e8d"/>
<circle cx="454.5" cy="475.5" r="5.2" fill="#1e3a6a"/>
<line x1="459" y1="364.6" x2="472.4" y2="364.6" stroke="#2f6e8d" stroke-width="2.6"/>
<line x1="471.4" y1="357" x2="471.4" y2="365.6" stroke="#2f6e8d" stroke-width="2.4"/>
<line x1="470.4" y1="357.7" x2="493" y2="357.7" stroke="#2f6e8d" stroke-width="2.3"/>
<line x1="492.3" y1="351" x2="492.3" y2="358" stroke="#2f6e8d" stroke-width="2.0"/>
<circle cx="492.5" cy="352" r="1.8" fill="#2f6e8d"/>
<line x1="493" y1="347" x2="516" y2="347" stroke="#6f9ab0" stroke-width="2.0"/>
<line x1="492.5" y1="347" x2="492.5" y2="364.5" stroke="#a7bfcb" stroke-width="1.0"/>
<line x1="492.5" y1="355.75" x2="516" y2="355.75" stroke="#a7bfcb" stroke-width="1.0"/>
<line x1="492.5" y1="364.5" x2="516" y2="364.5" stroke="#a7bfcb" stroke-width="1.0"/>
<line x1="471.25" y1="357.5" x2="471.25" y2="372.5" stroke="#a7bfcb" stroke-width="1.0"/>
<line x1="471.25" y1="372.5" x2="516" y2="372.5" stroke="#a7bfcb" stroke-width="1.0"/>
<line x1="460" y1="392.5" x2="468.75" y2="392.5" stroke="#6f9ab0" stroke-width="1.3"/>
<line x1="468.75" y1="385.5" x2="468.75" y2="398.75" stroke="#a7bfcb" stroke-width="1.0"/>
<line x1="468.75" y1="385.5" x2="485" y2="385.5" stroke="#6f9ab0" stroke-width="1.2"/>
<line x1="485" y1="381.25" x2="485" y2="389.5" stroke="#a7bfcb" stroke-width="1.0"/>
<line x1="485" y1="381.25" x2="516" y2="381.25" stroke="#a7bfcb" stroke-width="1.0"/>
<line x1="485" y1="389.5" x2="516" y2="389.5" stroke="#a7bfcb" stroke-width="1.0"/>
<line x1="468.75" y1="398.75" x2="516" y2="398.75" stroke="#a7bfcb" stroke-width="1.0"/>
<line x1="460" y1="411.25" x2="485" y2="411.25" stroke="#6f9ab0" stroke-width="1.3"/>
<line x1="485" y1="407.5" x2="485" y2="416.25" stroke="#a7bfcb" stroke-width="1.0"/>
<line x1="485" y1="407.5" x2="516" y2="407.5" stroke="#a7bfcb" stroke-width="1.0"/>
<line x1="485" y1="416.25" x2="516" y2="416.25" stroke="#a7bfcb" stroke-width="1.0"/>
<line x1="458" y1="423.75" x2="516" y2="423.75" stroke="#a7bfcb" stroke-width="1.0"/>
<line x1="458" y1="432" x2="516" y2="432" stroke="#a7bfcb" stroke-width="1.0"/>
<line x1="458" y1="445" x2="470" y2="445" stroke="#6f9ab0" stroke-width="1.4"/>
<line x1="470" y1="441.25" x2="470" y2="450" stroke="#a7bfcb" stroke-width="1.0"/>
<line x1="470" y1="441.25" x2="516" y2="441.25" stroke="#a7bfcb" stroke-width="1.0"/>
<line x1="470" y1="450" x2="516" y2="450" stroke="#a7bfcb" stroke-width="1.0"/>
<line x1="458" y1="463" x2="485" y2="463" stroke="#6f9ab0" stroke-width="1.4"/>
<line x1="485" y1="458.75" x2="485" y2="467.5" stroke="#a7bfcb" stroke-width="1.0"/>
<line x1="485" y1="458.75" x2="516" y2="458.75" stroke="#a7bfcb" stroke-width="1.0"/>
<line x1="485" y1="467.5" x2="516" y2="467.5" stroke="#a7bfcb" stroke-width="1.0"/>
<line x1="455.5" y1="496.25" x2="472" y2="496.25" stroke="#2f6e8d" stroke-width="2.4"/>
<line x1="472" y1="480" x2="472" y2="505" stroke="#6f9ab0" stroke-width="1.4"/>
<circle cx="472" cy="487" r="1.4" fill="#2f6e8d"/>
<line x1="472" y1="480" x2="492.5" y2="480" stroke="#6f9ab0" stroke-width="1.2"/>
<line x1="492.5" y1="475.5" x2="492.5" y2="484.5" stroke="#a7bfcb" stroke-width="1.0"/>
<line x1="492.5" y1="475.5" x2="516" y2="475.5" stroke="#a7bfcb" stroke-width="1.0"/>
<line x1="492.5" y1="484.5" x2="516" y2="484.5" stroke="#a7bfcb" stroke-width="1.0"/>
<line x1="472" y1="492.5" x2="516" y2="492.5" stroke="#a7bfcb" stroke-width="1.0"/>
<line x1="472" y1="505" x2="487.5" y2="505" stroke="#6f9ab0" stroke-width="1.2"/>
<line x1="487.5" y1="501.25" x2="487.5" y2="509.5" stroke="#a7bfcb" stroke-width="1.0"/>
<line x1="487.5" y1="501.25" x2="516" y2="501.25" stroke="#a7bfcb" stroke-width="1.0"/>
<line x1="487.5" y1="509.5" x2="516" y2="509.5" stroke="#a7bfcb" stroke-width="1.0"/>
<line x1="454.2" y1="529.5" x2="472" y2="529.5" stroke="#2f6e8d" stroke-width="2.2"/>
<line x1="472" y1="523" x2="472" y2="536.25" stroke="#6f9ab0" stroke-width="1.2"/>
<line x1="472" y1="523" x2="484.5" y2="523" stroke="#6f9ab0" stroke-width="1.4"/>
<line x1="484.5" y1="518.75" x2="484.5" y2="527.5" stroke="#a7bfcb" stroke-width="1.0"/>
<line x1="484.5" y1="518.75" x2="516" y2="518.75" stroke="#6f9ab0" stroke-width="1.2"/>
<line x1="484.5" y1="527.5" x2="516" y2="527.5" stroke="#a7bfcb" stroke-width="1.0"/>
<line x1="472" y1="536.25" x2="516" y2="536.25" stroke="#a7bfcb" stroke-width="1.0"/>
<text x="432" y="328.3" font-size="16" fill="#222">1540T</text>
<text x="0.6" y="565" font-size="27.2" text-anchor="start" font-weight="bold" fill="#000" >C</text>
<line x1="60.5" y1="558.5" x2="452.5" y2="558.5" stroke="#d4d4d4" stroke-width="1"/>
<line x1="60.5" y1="588.5" x2="452.5" y2="588.5" stroke="#d4d4d4" stroke-width="1"/>
<line x1="60.5" y1="618.5" x2="452.5" y2="618.5" stroke="#d4d4d4" stroke-width="1"/>
<line x1="60.5" y1="648.5" x2="452.5" y2="648.5" stroke="#d4d4d4" stroke-width="1"/>
<line x1="60.5" y1="678.5" x2="452.5" y2="678.5" stroke="#d4d4d4" stroke-width="1"/>
<line x1="60.5" y1="708.5" x2="452.5" y2="708.5" stroke="#d4d4d4" stroke-width="1"/>
<rect x="60.5" y="558.5" width="392.0" height="150.0" fill="none" stroke="#a8a8a8" stroke-width="1"/>
<line x1="60.5" y1="708.5" x2="60.5" y2="710.3" stroke="#b5b5b5" stroke-width="1"/>
<line x1="99.9" y1="708.5" x2="99.9" y2="710.3" stroke="#b5b5b5" stroke-width="1"/>
<line x1="139.3" y1="708.5" x2="139.3" y2="710.3" stroke="#b5b5b5" stroke-width="1"/>
<line x1="178.7" y1="708.5" x2="178.7" y2="710.3" stroke="#b5b5b5" stroke-width="1"/>
<line x1="218.1" y1="708.5" x2="218.1" y2="710.3" stroke="#b5b5b5" stroke-width="1"/>
<line x1="257.5" y1="708.5" x2="257.5" y2="710.3" stroke="#b5b5b5" stroke-width="1"/>
<line x1="296.9" y1="708.5" x2="296.9" y2="710.3" stroke="#b5b5b5" stroke-width="1"/>
<line x1="336.3" y1="708.5" x2="336.3" y2="710.3" stroke="#b5b5b5" stroke-width="1"/>
<line x1="375.7" y1="708.5" x2="375.7" y2="710.3" stroke="#b5b5b5" stroke-width="1"/>
<line x1="415.1" y1="708.5" x2="415.1" y2="710.3" stroke="#b5b5b5" stroke-width="1"/>
<line x1="454.5" y1="708.5" x2="454.5" y2="710.3" stroke="#b5b5b5" stroke-width="1"/>
<text x="46" y="563.1" font-size="15" text-anchor="end" fill="#262626">1.0</text>
<text x="46" y="593.1" font-size="15" text-anchor="end" fill="#262626">0.8</text>
<text x="46" y="623.1" font-size="15" text-anchor="end" fill="#262626">0.6</text>
<text x="46" y="653.1" font-size="15" text-anchor="end" fill="#262626">0.4</text>
<text x="46" y="683.1" font-size="15" text-anchor="end" fill="#262626">0.2</text>
<text x="46" y="713.1" font-size="15" text-anchor="end" fill="#262626">0</text>
<text x="58.5" y="732" font-size="16" text-anchor="middle" fill="#262626">-1000</text>
<text x="157.5" y="732" font-size="16" text-anchor="middle" fill="#262626">-500</text>
<text x="257.5" y="732" font-size="16" text-anchor="middle" fill="#262626">0</text>
<text x="354.5" y="732" font-size="16" text-anchor="middle" fill="#262626">500</text>
<text x="462.3" y="732" font-size="16" text-anchor="middle" fill="#262626">1000</text>
<text x="278" y="751" font-size="16.4" text-anchor="middle" fill="#262626">Nucleotide position (kb)</text>
<text transform="translate(16.6,628) rotate(-90)" font-size="16.5" text-anchor="middle" fill="#262626">EHH</text>
<rect x="364" y="566" width="73.5" height="42" fill="#fff"/>
<line x1="376" y1="578" x2="412" y2="578" stroke="#e41f26" stroke-width="4.3"/>
<polygon points="394,574.6 397.4,578 394,581.4 390.6,578" fill="#e41f26"/>
<line x1="376" y1="596.3" x2="412" y2="596.3" stroke="#3145a6" stroke-width="4.8"/>
<rect x="389.5" y="592" width="9" height="8.6" fill="#3145a6"/>
<text x="419" y="583.5" font-size="16" fill="#262626">C</text>
<text x="419.5" y="601.5" font-size="16" fill="#262626">T</text>
<polyline points="60,694.5 70,694 80,693.25 80.5,682 86.25,678 92.5,676.25 93,659.5 97.5,649.5 102.5,643.2 111.25,643 127.5,628.25 133.5,628.25 141.25,596.25 143.75,587.5 146.25,578.75 157.5,578.75 158,570.75 185,570.9 207.5,571.25 215,566.25 220,566.25 223.75,558.4 263.75,558.4 265,562.5 265,578.75 272.5,578.75 273,592.5 281.25,608.75 282.3,630 283.5,650 285,665 292.5,678.75 295,687.5 322.5,687.5 322.8,697.5 335,700 345,703.5 355,704.5 367.5,707.3" fill="none" stroke="#e41f26" stroke-width="4.2" stroke-linejoin="round" stroke-linecap="butt"/>
<polyline points="60,694.5 70,694 80,693.25 80.5,682 86.25,678 92.5,676.25 93,659.5 97.5,649.5 102.5,643.2 111.25,643 127.5,628.25 133.5,628.25 141.25,596.25 143.75,587.5 146.25,578.75 157.5,578.75 158,570.75 185,570.9 207.5,571.25 215,566.25 220,566.25 223.75,558.4 263.75,558.4 265,562.5 265,578.75 272.5,578.75 273,592.5 281.25,608.75 282.3,630 283.5,650 285,665 292.5,678.75 295,687.5 322.5,687.5 322.8,697.5 335,700 345,703.5 355,704.5 367.5,707.3" fill="none" stroke="#e41f26" stroke-width="5.5" stroke-dasharray="2.6 3.6" stroke-linejoin="round"/>
<defs><clipPath id="bthick"><rect x="55" y="550" width="57.5" height="165"/><rect x="127.5" y="550" width="7.5" height="165"/><rect x="141" y="550" width="68" height="165"/><rect x="214" y="550" width="31" height="165"/><rect x="262" y="550" width="111" height="165"/><rect x="397" y="550" width="12" height="165"/><rect x="430" y="550" width="29" height="165"/></clipPath></defs>
<polyline points="60.5,706 83.5,706 84,700.8 94.5,700.2 95.5,692.5 135,692.5 140,688.75 161.25,687.5 162,676.25 217.5,676.25 218.75,660 245,658.75 255,657.5" fill="none" stroke="#3145a6" stroke-width="3.6" stroke-linejoin="round" stroke-linecap="butt"/>
<polyline points="60.5,706 83.5,706 84,700.8 94.5,700.2 95.5,692.5 135,692.5 140,688.75 161.25,687.5 162,676.25 217.5,676.25 218.75,660 245,658.75 255,657.5" fill="none" stroke="#3145a6" stroke-width="6" stroke-linejoin="miter" clip-path="url(#bthick)"/>
<polyline points="261.25,665 263.75,687.5 271.25,688.75 273.75,693.75 285,695 288.75,703.75 295,705.2 322.5,705.2 323.5,708 360,708 455.5,708" fill="none" stroke="#3145a6" stroke-width="3.6" stroke-linejoin="round" stroke-linecap="butt"/>
<polyline points="261.25,665 263.75,687.5 271.25,688.75 273.75,693.75 285,695 288.75,703.75 295,705.2 322.5,705.2 323.5,708 360,708 455.5,708" fill="none" stroke="#3145a6" stroke-width="6" stroke-linejoin="miter" clip-path="url(#bthick)"/>
<polygon points="255.2,657.5 256.0,640 256.6,600 257.4,559 258.3,600 259.2,640 261.25,665" fill="#3145a6" stroke="#3145a6" stroke-width="2.4" stroke-linejoin="round"/>
<rect x="254.8" y="556.2" width="5.2" height="5" fill="#3145a6"/>
<polyline points="255.2,657.5 256.0,640 256.6,600 257.4,559 258.3,600 259.2,640 261.25,665" fill="none" stroke="#3145a6" stroke-width="3.2" stroke-dasharray="3 9" stroke-linejoin="round"/>
<text x="-1.6" y="772.8" font-size="27.2" text-anchor="start" font-weight="bold" fill="#000" >D</text>
<line x1="61.25" y1="937.50" x2="501.5" y2="937.50" stroke="#d6d6d6" stroke-width="1"/>
<line x1="61.25" y1="909.80" x2="501.5" y2="909.80" stroke="#d6d6d6" stroke-width="1"/>
<line x1="61.25" y1="882.10" x2="501.5" y2="882.10" stroke="#d6d6d6" stroke-width="1"/>
<line x1="61.25" y1="854.40" x2="501.5" y2="854.40" stroke="#d6d6d6" stroke-width="1"/>
<line x1="61.25" y1="826.70" x2="501.5" y2="826.70" stroke="#d6d6d6" stroke-width="1"/>
<line x1="61.25" y1="799.00" x2="501.5" y2="799.00" stroke="#d6d6d6" stroke-width="1"/>
<line x1="61.25" y1="771.30" x2="501.5" y2="771.30" stroke="#d6d6d6" stroke-width="1"/>
<rect x="61.25" y="771.3" width="440.25" height="166.20000000000005" fill="none" stroke="#a8a8a8" stroke-width="1"/>
<line x1="61.25" y1="937.5" x2="61.25" y2="939.3" stroke="#b0b0b0" stroke-width="1"/>
<line x1="82.21" y1="937.5" x2="82.21" y2="939.3" stroke="#b0b0b0" stroke-width="1"/>
<line x1="103.18" y1="937.5" x2="103.18" y2="939.3" stroke="#b0b0b0" stroke-width="1"/>
<line x1="124.14" y1="937.5" x2="124.14" y2="939.3" stroke="#b0b0b0" stroke-width="1"/>
<line x1="145.11" y1="937.5" x2="145.11" y2="939.3" stroke="#b0b0b0" stroke-width="1"/>
<line x1="166.07" y1="937.5" x2="166.07" y2="939.3" stroke="#b0b0b0" stroke-width="1"/>
<line x1="187.04" y1="937.5" x2="187.04" y2="939.3" stroke="#b0b0b0" stroke-width="1"/>
<line x1="208.00" y1="937.5" x2="208.00" y2="939.3" stroke="#b0b0b0" stroke-width="1"/>
<line x1="228.96" y1="937.5" x2="228.96" y2="939.3" stroke="#b0b0b0" stroke-width="1"/>
<line x1="249.93" y1="937.5" x2="249.93" y2="939.3" stroke="#b0b0b0" stroke-width="1"/>
<line x1="270.89" y1="937.5" x2="270.89" y2="939.3" stroke="#b0b0b0" stroke-width="1"/>
<line x1="291.86" y1="937.5" x2="291.86" y2="939.3" stroke="#b0b0b0" stroke-width="1"/>
<line x1="312.82" y1="937.5" x2="312.82" y2="939.3" stroke="#b0b0b0" stroke-width="1"/>
<line x1="333.79" y1="937.5" x2="333.79" y2="939.3" stroke="#b0b0b0" stroke-width="1"/>
<line x1="354.75" y1="937.5" x2="354.75" y2="939.3" stroke="#b0b0b0" stroke-width="1"/>
<line x1="375.71" y1="937.5" x2="375.71" y2="939.3" stroke="#b0b0b0" stroke-width="1"/>
<line x1="396.68" y1="937.5" x2="396.68" y2="939.3" stroke="#b0b0b0" stroke-width="1"/>
<line x1="417.64" y1="937.5" x2="417.64" y2="939.3" stroke="#b0b0b0" stroke-width="1"/>
<line x1="438.61" y1="937.5" x2="438.61" y2="939.3" stroke="#b0b0b0" stroke-width="1"/>
<line x1="459.57" y1="937.5" x2="459.57" y2="939.3" stroke="#b0b0b0" stroke-width="1"/>
<line x1="480.54" y1="937.5" x2="480.54" y2="939.3" stroke="#b0b0b0" stroke-width="1"/>
<line x1="501.50" y1="937.5" x2="501.50" y2="939.3" stroke="#b0b0b0" stroke-width="1"/>
<text x="51" y="942.5" font-size="12.7" text-anchor="end" fill="#262626">0</text>
<text x="51" y="914.8" font-size="12.7" text-anchor="end" fill="#262626">1000</text>
<text x="51" y="887.1" font-size="12.7" text-anchor="end" fill="#262626">2000</text>
<text x="51" y="859.4" font-size="12.7" text-anchor="end" fill="#262626">3000</text>
<text x="51" y="831.7" font-size="12.7" text-anchor="end" fill="#262626">4000</text>
<text x="51" y="804.0" font-size="12.7" text-anchor="end" fill="#262626">5000</text>
<text x="51" y="776.3" font-size="12.7" text-anchor="end" fill="#262626">6000</text>
<text transform="translate(12,866.5) rotate(-90)" font-size="11.6" text-anchor="middle" fill="#262626">Number of core SNPs</text>
<rect x="182" y="815" width="148" height="50" fill="#fff"/>
<rect x="352" y="815" width="144" height="50" fill="#fff"/>
<text x="185" y="835" font-size="18.4" fill="#262626">REHH<tspan font-size="11.5" dy="4.5">cd</tspan><tspan dy="-4.5"> = 5.098</tspan></text>
<text x="185" y="859" font-size="18.4" fill="#262626">(<tspan font-style="italic">P</tspan> = 0.026)</text>
<text x="362.5" y="835" font-size="18.4" fill="#262626">REHH<tspan font-size="11.5" dy="4.5">cp</tspan><tspan dy="-4.5"> = 9.525</tspan></text>
<text x="362.5" y="859" font-size="18.4" fill="#262626">(<tspan font-style="italic">P</tspan> = 0.0052)</text>
<line x1="279.7" y1="867.5" x2="279.7" y2="917" stroke="#000" stroke-width="2.2"/><polygon points="272.5,914 286.9,914 279.7,927" fill="#000"/>
<line x1="468" y1="867.5" x2="468" y2="917" stroke="#000" stroke-width="2.2"/><polygon points="460.8,914 475.2,914 468,927" fill="#000"/>
<rect x="67.63" y="791.24" width="8.2" height="146.26" fill="#000"/>
<rect x="88.60" y="836.95" width="8.2" height="100.55" fill="#000"/>
<rect x="109.56" y="892.63" width="8.2" height="44.87" fill="#000"/>
<rect x="130.53" y="910.49" width="8.2" height="27.01" fill="#000"/>
<rect x="151.49" y="922.54" width="8.2" height="14.96" fill="#000"/>
<rect x="172.45" y="926.28" width="8.2" height="11.22" fill="#000"/>
<rect x="193.42" y="931.68" width="8.2" height="5.82" fill="#000"/>
<rect x="214.38" y="933.48" width="8.2" height="4.02" fill="#000"/>
<rect x="235.35" y="935.51" width="8.2" height="1.99" fill="#000"/>
<rect x="256.31" y="935.89" width="8.2" height="1.61" fill="#000"/>
<rect x="277.27" y="935.98" width="8.2" height="1.52" fill="#000"/>
<rect x="298.24" y="936.12" width="8.2" height="1.38" fill="#000"/>
<rect x="319.20" y="936.17" width="8.2" height="1.33" fill="#000"/>
<rect x="340.17" y="936.39" width="8.2" height="1.11" fill="#000"/>
<rect x="361.13" y="936.81" width="8.2" height="0.69" fill="#000"/>
<rect x="382.10" y="936.89" width="8.2" height="0.61" fill="#000"/>
<rect x="403.06" y="937.00" width="8.2" height="0.50" fill="#000"/>
<rect x="424.02" y="937.11" width="8.2" height="0.39" fill="#000"/>
<rect x="444.99" y="937.22" width="8.2" height="0.28" fill="#000"/>
<rect x="465.95" y="937.33" width="8.2" height="0.17" fill="#000"/>
<rect x="486.92" y="935.42" width="8.2" height="2.08" fill="#000"/>
<text transform="translate(76.03,958.0) rotate(45)" font-size="12.7" fill="#262626">0.5</text>
<text transform="translate(97.00,958.0) rotate(45)" font-size="12.7" fill="#262626">1</text>
<text transform="translate(117.96,958.0) rotate(45)" font-size="12.7" fill="#262626">1.5</text>
<text transform="translate(138.93,958.0) rotate(45)" font-size="12.7" fill="#262626">2</text>
<text transform="translate(159.89,958.0) rotate(45)" font-size="12.7" fill="#262626">2.5</text>
<text transform="translate(180.85,958.0) rotate(45)" font-size="12.7" fill="#262626">3</text>
<text transform="translate(201.82,958.0) rotate(45)" font-size="12.7" fill="#262626">3.5</text>
<text transform="translate(222.78,958.0) rotate(45)" font-size="12.7" fill="#262626">4</text>
<text transform="translate(243.75,958.0) rotate(45)" font-size="12.7" fill="#262626">4.5</text>
<text transform="translate(264.71,958.0) rotate(45)" font-size="12.7" fill="#262626">5</text>
<text transform="translate(285.68,958.0) rotate(45)" font-size="12.7" fill="#262626">5.5</text>
<text transform="translate(306.64,958.0) rotate(45)" font-size="12.7" fill="#262626">6</text>
<text transform="translate(327.60,958.0) rotate(45)" font-size="12.7" fill="#262626">6.5</text>
<text transform="translate(348.57,958.0) rotate(45)" font-size="12.7" fill="#262626">7</text>
<text transform="translate(369.53,958.0) rotate(45)" font-size="12.7" fill="#262626">7.5</text>
<text transform="translate(390.50,958.0) rotate(45)" font-size="12.7" fill="#262626">8</text>
<text transform="translate(411.46,958.0) rotate(45)" font-size="12.7" fill="#262626">8.5</text>
<text transform="translate(432.43,958.0) rotate(45)" font-size="12.7" fill="#262626">9</text>
<text transform="translate(453.39,958.0) rotate(45)" font-size="12.7" fill="#262626">9.5</text>
<text transform="translate(474.35,958.0) rotate(45)" font-size="12.7" fill="#262626">10</text>
<text transform="translate(495.32,958.0) rotate(45)" font-size="12.7" fill="#262626">&gt;10</text>
<text x="281" y="996" font-size="13.5" text-anchor="middle" fill="#262626">REHH</text>
</svg>
</body></html>
